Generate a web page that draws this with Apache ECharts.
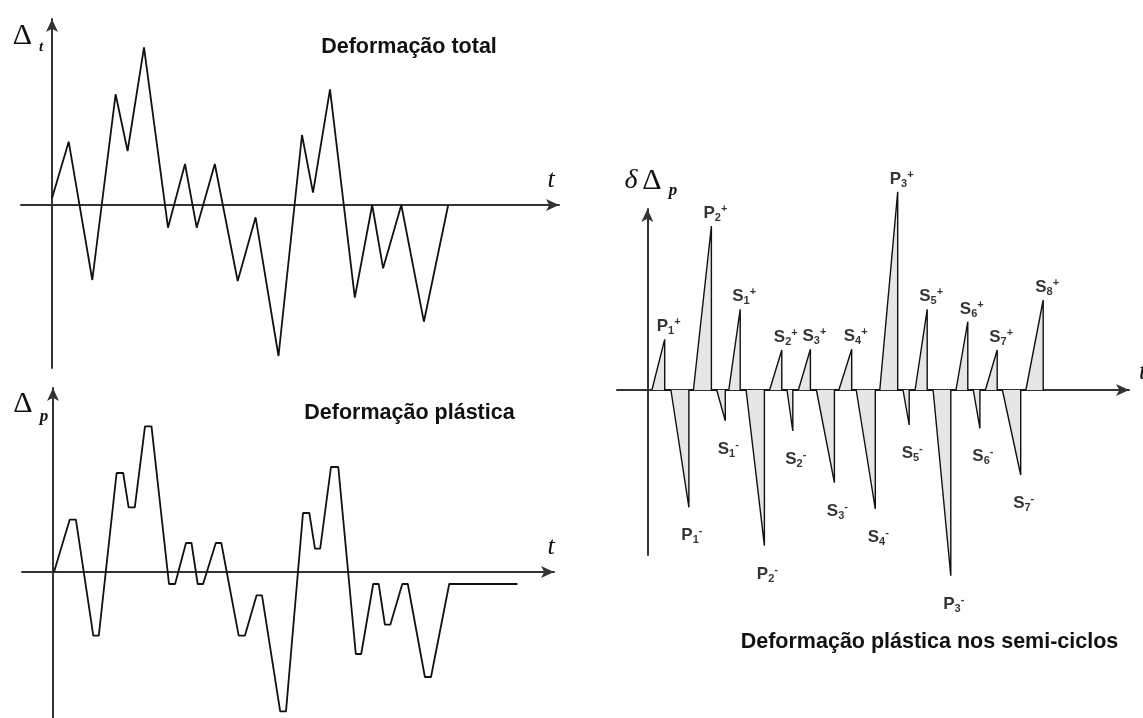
<!DOCTYPE html>
<html><head><meta charset="utf-8">
<script src="https://cdn.jsdelivr.net/npm/echarts@6/dist/echarts.min.js"></script>
<style>html,body{margin:0;padding:0;background:#fff}#c{width:1143px;height:718px}</style>
</head><body><div id="c"></div>
<script>
// ---- Deformação total (top-left) ----
const tTotal = [0, 16.7, 40.3, 63.6, 75.6, 92, 116, 133, 144.7, 162.8, 185.7, 203.6, 226.5, 250, 261, 278, 302.8, 320.2, 331.1, 349.3, 371.9, 396.2];
const vTotal = [6.7, 63.3, -75, 110.7, 54, 157.7, -22.7, 41, -22.7, 41, -76, -12.3, -151, 70, 12.3, 115.7, -92.7, 0, -63.3, 0, -116.7, 0];

// ---- Deformação plástica (bottom-left) ----
const tPlast = [1, 16.7, 22.9, 40.3, 45.8, 63.6, 70.2, 75.6, 81.8, 92, 98.5, 116, 122.1, 133, 138.5, 144.7, 150.1, 162.8, 168.3, 185.7, 191.9, 203.6, 209, 227.2, 233, 250, 256.3, 262, 267.2, 278, 285.3, 302.8, 308.2, 320.2, 325.7, 331.9, 337.3, 349.3, 354.8, 371.9, 378, 396.2, 464.5];
const vPlast = [0, 52.3, 52.3, -63.7, -63.7, 99, 99, 64.7, 64.7, 145.7, 145.7, -12, -12, 29, 29, -12, -12, 29, 29, -63.7, -63.7, -23.3, -23.3, -139.3, -139.3, 59, 59, 23.3, 23.3, 105, 105, -82, -82, -12, -12, -52.7, -52.7, -12, -12, -105, -105, -12, -12];

// ---- Deformação plástica nos semi-ciclos (right) ----
const cycLetter = ['P','P','P','S','S','P','S','S','S','S','S','S','P','S','S','P','S','S','S','S','S'];
const cycIndex  = [1, 1, 2, 1, 1, 2, 2, 2, 3, 3, 4, 4, 3, 5, 5, 3, 6, 6, 7, 7, 8];
const cycStart  = [4.5, 23.5, 46, 69.3, 81.4, 98.7, 122.2, 139.6, 151, 169, 191.5, 208.8, 232.4, 255.6, 267.7, 285.7, 308.6, 325.9, 338, 355, 378.5];
const cycEnd    = [17.3, 41.5, 64, 77.9, 92.8, 117, 134.4, 145.4, 163, 187, 204.3, 227.9, 250.3, 261.8, 279.8, 303.4, 320.4, 332.5, 349.8, 373.3, 395.8];
const cycPeak   = [50.7, -117.3, 164, -30.7, 80.7, -155.7, 40, -41, 40.7, -92.7, 40.7, -119, 198.3, -35, 80.7, -185.7, 68.3, -38.3, 40, -85, 90];

const F = '"Liberation Sans",Arial,sans-serif';
const SERIF = '"Liberation Serif","DejaVu Serif",serif';
const INK = '#111';

const zip = (a, b) => a.map((x, i) => [x, b[i]]);
const triData = [];
cycStart.forEach((s, i) => {
  triData.push([s, 0], [cycEnd[i], cycPeak[i]], [cycEnd[i], 0]);
});
const labelData = cycEnd.map((e, i) => {
  const pos = cycPeak[i] > 0;
  return {
    value: [e, cycPeak[i]],
    label: {
      show: true,
      position: pos ? 'top' : 'bottom',
      distance: pos ? 2 : 18,
      offset: pos ? [4, 0] : [3, 0],
      formatter: '{m|' + cycLetter[i] + '}{s|' + cycIndex[i] + '}{u|' + (pos ? '+' : '-') + '}'
    }
  };
});

function axisX(grid, min, max) {
  return { gridIndex: grid, type: 'value', min: min, max: max,
    axisLine: { onZero: true, symbol: ['none', 'arrow'], symbolSize: [9, 13], lineStyle: { color: '#333', width: 2 } },
    axisTick: { show: false }, axisLabel: { show: false }, splitLine: { show: false } };
}
function axisY(grid, min, max) {
  return { gridIndex: grid, type: 'value', min: min, max: max,
    axisLine: { onZero: true, symbol: ['none', 'arrow'], symbolSize: [9, 13], lineStyle: { color: '#333', width: 2 } },
    axisTick: { show: false }, axisLabel: { show: false }, splitLine: { show: false } };
}
function txt(x, y, text, font, align) {
  return { type: 'text', x: x, y: y, z: 10,
    style: { text: text, font: font, fill: INK, textAlign: align || 'center', textVerticalAlign: 'middle', align: align || 'center', verticalAlign: 'middle' } };
}

const chart = echarts.init(document.getElementById('c'), null, { renderer: 'canvas' });
chart.setOption({
  animation: false,
  backgroundColor: '#fff',
  grid: [
    { left: 21, top: 19, width: 538, height: 349 },
    { left: 22, top: 388, width: 532, height: 330 },
    { left: 617, top: 209, width: 512, height: 346 }
  ],
  xAxis: [axisX(0, -31, 507), axisX(1, -31, 501), axisX(2, -30.4, 481.6)],
  yAxis: [axisY(0, -163, 186), axisY(1, -146, 184), axisY(2, -165, 181)],
  series: [
    { type: 'line', xAxisIndex: 0, yAxisIndex: 0, data: zip(tTotal, vTotal), symbol: 'none',
      lineStyle: { color: INK, width: 1.8 } },
    { type: 'line', xAxisIndex: 1, yAxisIndex: 1, data: zip(tPlast, vPlast), symbol: 'none',
      lineStyle: { color: INK, width: 1.8 } },
    { type: 'line', xAxisIndex: 2, yAxisIndex: 2, data: triData, symbol: 'none', clip: false,
      lineStyle: { color: INK, width: 1.4 }, areaStyle: { color: '#e6e6e6', opacity: 1 } },
    { type: 'scatter', xAxisIndex: 2, yAxisIndex: 2, data: labelData, clip: false,
      symbol: 'circle', symbolSize: 1, itemStyle: { color: 'rgba(0,0,0,0)' },
      label: { show: true, color: '#000',
        rich: {
          m: { fontFamily: F, fontWeight: 'bold', fontSize: 17, color: '#000', lineHeight: 20 },
          s: { fontFamily: F, fontWeight: 'bold', fontSize: 11, color: '#000', verticalAlign: 'bottom', lineHeight: 12 },
          u: { fontFamily: F, fontWeight: 'bold', fontSize: 11, color: '#000', verticalAlign: 'top', lineHeight: 14 }
        } } }
  ],
  graphic: [
    txt(409, 47, 'Deformação total', 'bold 21.5px ' + F),
    txt(409.5, 413, 'Deformação plástica', 'bold 21.5px ' + F),
    txt(929.5, 642, 'Deformação plástica nos semi-ciclos', 'bold 21.5px ' + F),
    txt(22.5, 36, 'Δ', '30px ' + SERIF),
    txt(41, 47, 't', 'italic bold 15px ' + SERIF),
    txt(23, 404, 'Δ', '30px ' + SERIF),
    txt(44, 417, 'p', 'italic bold 17px ' + SERIF),
    txt(631, 181, 'δ', 'italic 28px ' + SERIF),
    txt(652, 181, 'Δ', '30px ' + SERIF),
    txt(673, 191, 'p', 'italic bold 17px ' + SERIF),
    txt(551, 180, 't', 'italic 26px ' + SERIF),
    txt(551, 547, 't', 'italic 26px ' + SERIF),
    txt(1139, 372, 't', 'italic 26px ' + SERIF, 'left')
  ]
});
</script>
</body></html>
